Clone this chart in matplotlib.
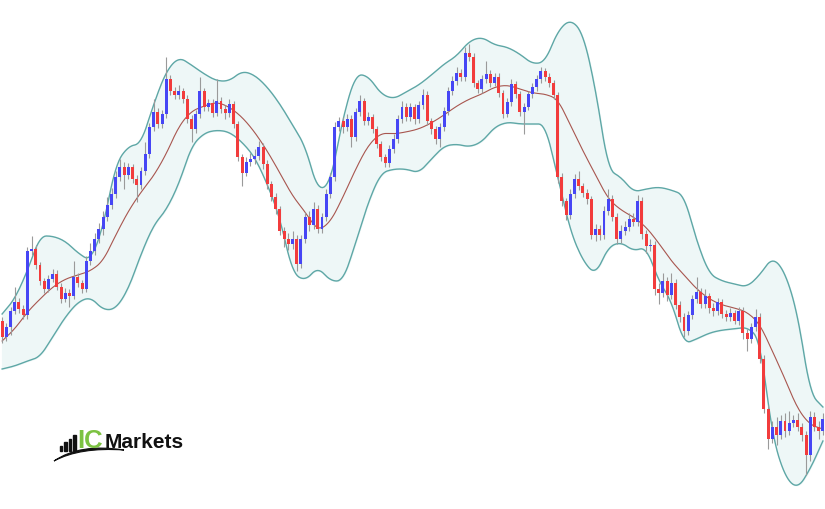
import numpy as np
import matplotlib
matplotlib.use("Agg")
import matplotlib.pyplot as plt
from matplotlib.patches import Rectangle, PathPatch
from matplotlib.path import Path

# candle data (price units), open = previous close
first_open = 188
closes = [
    172, 182, 198, 207, 200, 194, 258, 260, 244, 228,
    220, 230, 235, 222, 210, 216, 213, 232, 226, 220,
    248, 258, 270, 280, 292, 304, 315, 332, 342, 334,
    342, 330, 324, 338, 355, 382, 397, 385, 395, 430,
    418, 414, 418, 410, 390, 380, 395, 418, 402, 406,
    396, 408, 400, 396, 405, 385, 352, 336, 347, 350,
    353, 362, 345, 325, 312, 300, 278, 270, 265, 270,
    245, 270, 292, 284, 300, 280, 292, 315, 332, 382,
    388, 382, 390, 372, 397, 408, 388, 392, 380, 365,
    352, 346, 360, 370, 390, 402, 392, 402, 390, 404,
    414, 388, 380, 370, 382, 398, 418, 428, 436, 432,
    456, 452, 426, 420, 430, 435, 426, 432, 416, 395,
    407, 425, 415, 397, 402, 415, 422, 430, 438, 432,
    426, 414, 332, 308, 294, 315, 330, 323, 316, 310,
    274, 280, 274, 298, 310, 292, 270, 278, 282, 290,
    287, 308, 275, 263, 264, 220, 216, 228, 214, 226,
    204, 192, 178, 194, 210, 217, 205, 213, 201, 198,
    207, 195, 192, 196, 188, 198, 176, 170, 182, 192,
    150, 100, 70, 82, 74, 88, 78, 86, 89, 82,
    74, 54, 92, 82, 78, 90,
]
highs = [
    192, 186, 202, 222, 211, 204, 262, 273, 264, 247,
    231, 234, 240, 239, 226, 221, 220, 248, 236, 229,
    253, 266, 276, 286, 298, 312, 321, 338, 350, 347,
    346, 345, 334, 342, 367, 386, 410, 401, 399, 452,
    434, 422, 424, 421, 414, 394, 399, 432, 421, 410,
    410, 430, 412, 404, 410, 408, 388, 355, 352, 356,
    360, 368, 366, 349, 328, 316, 303, 282, 276, 278,
    274, 274, 297, 298, 307, 304, 296, 320, 336, 387,
    392, 392, 395, 394, 401, 414, 411, 397, 395, 383,
    368, 355, 364, 375, 394, 408, 406, 406, 405, 408,
    420, 418, 391, 383, 386, 402, 422, 433, 442, 440,
    462, 465, 456, 429, 434, 448, 439, 436, 436, 419,
    411, 430, 428, 418, 406, 418, 426, 434, 442, 441,
    436, 429, 417, 336, 311, 320, 335, 338, 326, 320,
    313, 285, 284, 303, 320, 314, 296, 284, 288, 296,
    296, 314, 312, 279, 270, 268, 226, 236, 232, 236,
    230, 208, 196, 198, 214, 232, 221, 220, 216, 206,
    211, 210, 199, 201, 199, 202, 202, 180, 186, 200,
    196, 154, 104, 88, 92, 94, 96, 98, 94, 96,
    86, 78, 98, 97, 88, 96,
]
lows = [
    166, 168, 174, 195, 196, 190, 190, 254, 240, 224,
    216, 217, 227, 219, 206, 207, 202, 210, 222, 216,
    217, 244, 254, 266, 274, 288, 300, 311, 328, 320,
    330, 326, 307, 320, 334, 351, 378, 381, 381, 391,
    414, 410, 410, 406, 386, 367, 376, 391, 398, 398,
    392, 393, 396, 390, 392, 381, 348, 323, 333, 343,
    345, 349, 340, 320, 308, 295, 274, 262, 259, 260,
    238, 241, 266, 278, 280, 276, 276, 288, 311, 328,
    378, 376, 378, 362, 368, 393, 384, 384, 376, 361,
    348, 342, 342, 356, 366, 386, 388, 388, 385, 386,
    400, 384, 375, 365, 362, 378, 394, 414, 424, 428,
    428, 448, 422, 416, 416, 426, 422, 423, 412, 391,
    392, 403, 411, 393, 375, 399, 411, 418, 426, 428,
    422, 410, 326, 303, 289, 290, 311, 319, 312, 305,
    270, 268, 269, 270, 294, 288, 265, 266, 274, 278,
    283, 283, 270, 256, 258, 214, 205, 212, 208, 210,
    200, 187, 172, 174, 190, 206, 201, 201, 196, 193,
    194, 191, 188, 188, 185, 184, 170, 158, 166, 178,
    146, 96, 60, 66, 64, 70, 72, 74, 82, 78,
    68, 34, 48, 78, 70, 74,
]

# Bollinger bands, read every 3rd candle
band_step = 3
upper_band = [
    195, 210, 238, 273, 273, 268, 256, 248, 282, 345,
    363, 365, 405, 438, 452, 444, 435, 428, 428, 438,
    434, 422, 405, 384, 363, 318, 326, 392, 435, 433,
    415, 410, 417, 424, 434, 445, 453, 468, 472, 464,
    462, 455, 445, 447, 478, 490, 476, 420, 339, 332,
    317, 320, 322, 319, 314, 268, 235, 228, 225, 222,
    234, 252, 237, 195, 115, 102,
]
middle_band = [
    168, 180, 197, 210, 222, 230, 234, 238, 248, 274,
    298, 317, 333, 355, 383, 398, 403, 407, 402, 392,
    377, 358, 336, 313, 297, 278, 287, 312, 340, 364,
    376, 375, 377, 380, 386, 394, 403, 410, 415, 422,
    424, 420, 416, 415, 410, 384, 358, 334, 310, 299,
    292, 282, 266, 248, 234, 220, 210, 204, 201, 197,
    185, 158, 130, 100, 84, 80,
]
lower_band = [
    140, 143, 148, 152, 172, 192, 207, 212, 199, 200,
    220, 255, 284, 299, 325, 363, 376, 379, 377, 367,
    352, 325, 291, 236, 228, 242, 228, 228, 266, 307,
    336, 340, 340, 336, 350, 363, 365, 362, 367, 382,
    387, 385, 385, 385, 332, 278, 248, 234, 262, 267,
    258, 262, 228, 208, 165, 170, 176, 179, 180, 182,
    170, 73, 32, 20, 40, 68,
]

BULL = "#4646f5"
BEAR = "#f23c3c"
WICK = "#9a9a9a"


def smooth(xs, ys, steps=8):
    # quadratic B-spline through midpoints, only to round the drawn line
    xs = np.asarray(xs, float)
    ys = np.asarray(ys, float)
    mx = np.concatenate([[xs[0]], (xs[:-1] + xs[1:]) / 2, [xs[-1]]])
    my = np.concatenate([[ys[0]], (ys[:-1] + ys[1:]) / 2, [ys[-1]]])
    t = np.linspace(0, 1, steps, endpoint=False)[:, None]
    px = (1 - t) ** 2 * mx[:-1] + 2 * (1 - t) * t * xs + t ** 2 * mx[1:]
    py = (1 - t) ** 2 * my[:-1] + 2 * (1 - t) * t * ys + t ** 2 * my[1:]
    px = np.append(px.T.ravel(), xs[-1])
    py = np.append(py.T.ravel(), ys[-1])
    return px, py


closes = np.array(closes, dtype=float)
opens = np.concatenate([[first_open], closes[:-1]])
highs = np.maximum(np.array(highs, dtype=float), np.maximum(opens, closes))
lows = np.minimum(np.array(lows, dtype=float), np.minimum(opens, closes))
n = len(closes)
x = np.arange(n)
bx = np.arange(0, n, band_step)

fig = plt.figure(figsize=(8.25, 5.10), dpi=100)
ax = fig.add_axes([0, 0, 1, 1])
ax.set_xlim(-0.5, n - 0.5)
ax.set_ylim(0, 510)
ax.axis("off")

# bands
ux, uy = smooth(bx, upper_band)
lx, ly = smooth(bx, lower_band)
mx_, my_ = smooth(bx, middle_band)
ax.fill_between(ux, ly, uy, color="#eef7f7", zorder=1)
ax.plot(ux, uy, color="#5ea7a6", lw=1.0, zorder=2)
ax.plot(lx, ly, color="#5ea7a6", lw=1.0, zorder=2)
ax.plot(mx_, my_, color="#a8564f", lw=0.8, zorder=2)

# candles
ax.vlines(x, lows, highs, color=WICK, lw=0.8, zorder=3)
bull = closes >= opens
colors = np.where(bull, BULL, BEAR)
bottoms = np.minimum(opens, closes)
heights = np.maximum(np.abs(closes - opens), 1.0)
ax.bar(x, heights, bottom=bottoms, width=0.7, color=colors,
       linewidth=0, zorder=4)

# logo (figure pixel coords converted to fractions)
W, H = 825.0, 510.0


def fx(px):
    return px / W


def fy(py):
    return 1 - py / H


for bx0, top in [(59.5, 447), (64.0, 443), (68.5, 439.5), (73.0, 436)]:
    fig.patches.append(Rectangle((fx(bx0), fy(452)), 2.8 / W, (452 - top) / H,
                                 transform=fig.transFigure, color="#111111"))
verts = [(fx(54), fy(462)), (fx(80), fy(444)), (fx(124), fy(451)),
         (fx(80), fy(448)), (fx(54), fy(462))]
codes = [Path.MOVETO, Path.CURVE3, Path.CURVE3, Path.CURVE3, Path.CURVE3]
fig.patches.append(PathPatch(Path(verts, codes), transform=fig.transFigure,
                             facecolor="#111111", edgecolor="#111111", lw=0.8))
fig.text(fx(77), fy(448.5), "IC", color="#7cc242", fontsize=18.5,
         fontweight="bold", family="Liberation Sans", va="baseline")
fig.text(fx(105), fy(448.5), "Markets", color="#111111", fontsize=15,
         fontweight="bold", family="Liberation Sans", va="baseline")

fig.savefig("out.png", dpi=100)
